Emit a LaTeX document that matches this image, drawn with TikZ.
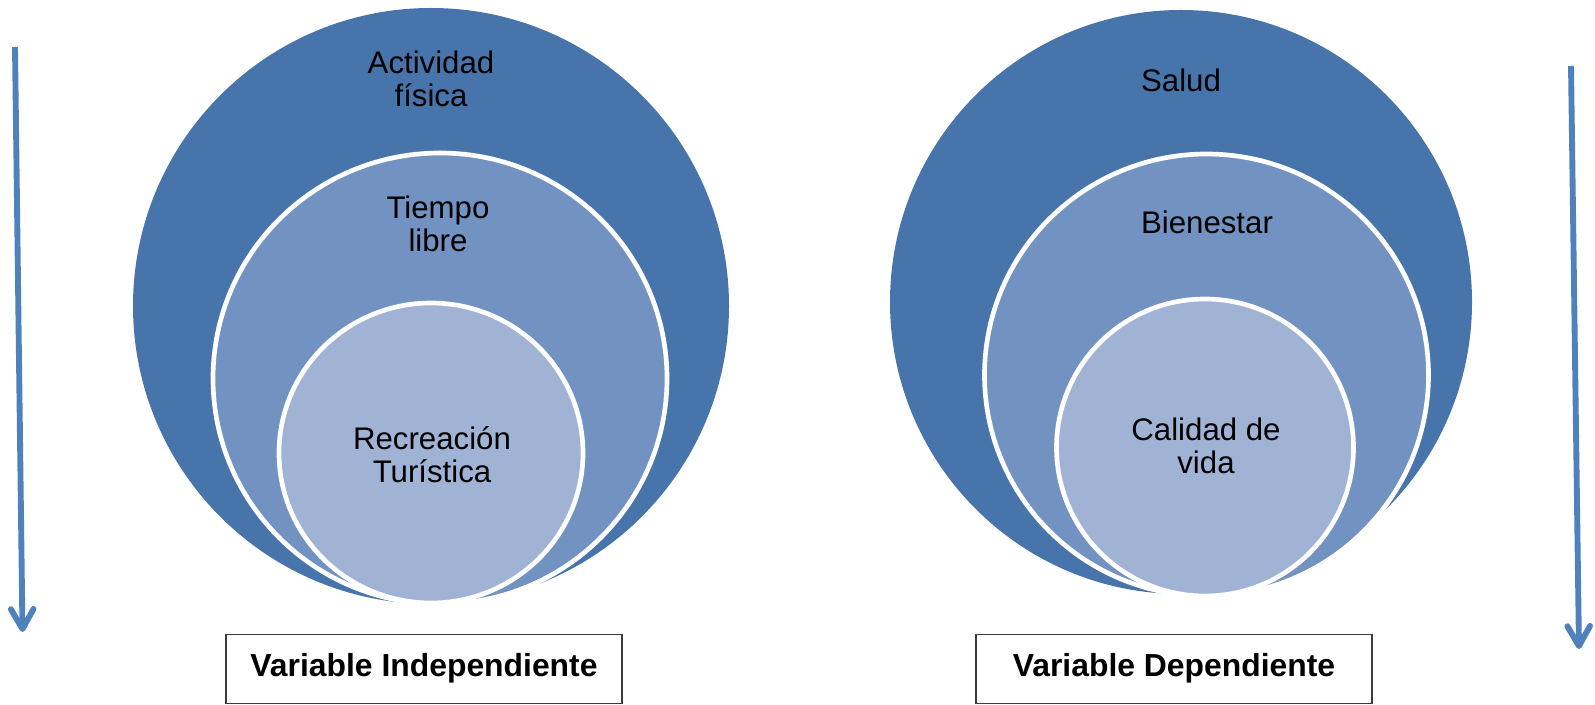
\documentclass[tikz,border=0pt]{standalone}
\usepackage{fontspec}
\setmainfont{Liberation Sans}
\usetikzlibrary{arrows.meta}
\definecolor{ringA}{RGB}{71,116,170}
\definecolor{ringB}{RGB}{114,146,193}
\definecolor{ringC}{RGB}{161,179,212}
\definecolor{arrowblue}{RGB}{79,129,189}
\definecolor{boxgray}{RGB}{60,60,60}
\tikzset{
  outerring/.style={fill=ringA},
  midring/.style={fill=ringB, draw=white, line width=3.5pt},
  innerring/.style={fill=ringC, draw=white, line width=3.5pt},
  lbl/.style={align=center, inner sep=0pt, anchor=base, text=black,
    font=\fontsize{23.4pt}{24.75pt}\selectfont},
  varbox/.style={draw=boxgray, line width=1.1pt, fill=white,
    minimum width=297pt, minimum height=51.5pt, inner sep=0pt,
    text height=16pt, text depth=5pt,
    font=\fontsize{23.9pt}{25pt}\selectfont\bfseries},
  downarrow/.style={draw=arrowblue, line width=4.4pt,
    -{Straight Barb[length=15pt,width=17pt,line cap=round,line join=round]}}
}
\begin{document}
\begin{tikzpicture}[x=0.75pt,y=-0.75pt]
\useasboundingbox (0,0) rectangle (1595,705);

% left nested circles
\fill[outerring] (431,306) ellipse [x radius=298, y radius=298];
\filldraw[midring] (440,378.5) ellipse [x radius=227, y radius=225.5];
\filldraw[innerring] (431,453) ellipse [x radius=152, y radius=150];

% right nested circles
\fill[outerring] (1181,302) ellipse [x radius=291, y radius=292];
\filldraw[midring] (1206.5,375) ellipse [x radius=222, y radius=221];
\filldraw[innerring] (1205,447.5) ellipse [x radius=148.5, y radius=148.5];

% labels (base = baseline of last line)
\node[lbl] (af) at (431,107) {Actividad\\física};
\node[lbl] (tl) at (438,252) {Tiempo\\libre};
\node[lbl] (rt) at (432,483) {Recreación\\Turística};
\node[lbl] (sa) at (1181,92) {Salud};
\node[lbl] (bi) at (1207,234) {Bienestar};
\node[lbl] (cv) at (1206,474) {Calidad de\\vida};

% boxes
\node[varbox] (vi) at (424,669) {Variable Independiente};
\node[varbox] (vd) at (1174,669) {Variable Dependiente};

% arrows
\coordinate (l1) at (15,47);
\coordinate (l2) at (22.5,632);
\coordinate (r1) at (1571,66);
\coordinate (r2) at (1579,649);
\draw[downarrow] (l1) -- (l2);
\draw[downarrow] (r1) -- (r2);
\end{tikzpicture}
\end{document}
